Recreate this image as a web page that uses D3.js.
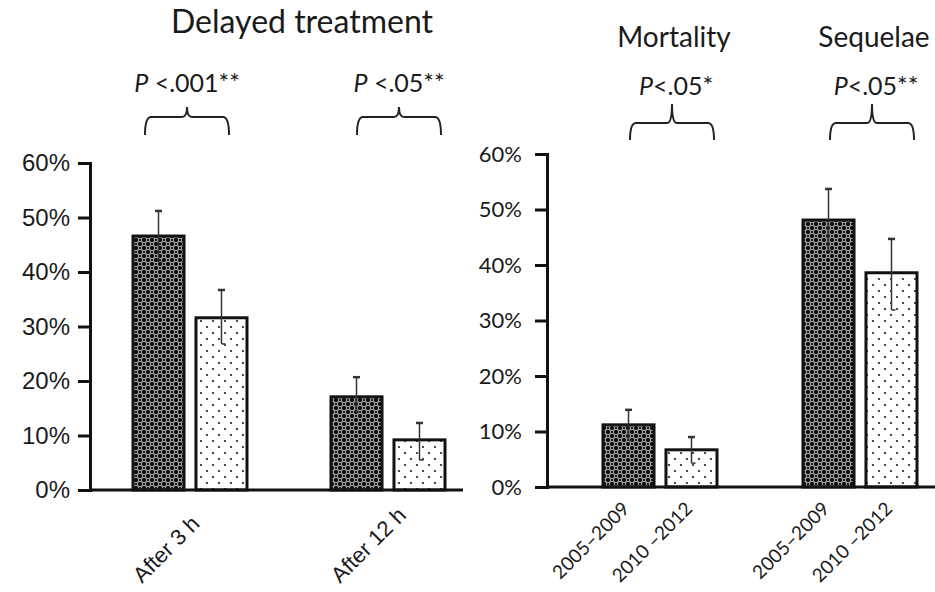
<!DOCTYPE html>
<html lang="en">
<head>
<meta charset="UTF-8">
<title>Delayed treatment, mortality and sequelae</title>
<script src="https://d3js.org/d3.v7.min.js"></script>
<style>
  body { margin: 0; background: #fff; }
  svg text { fill: #1a1a1a; }
</style>
</head>
<body>
<script>

// ---- data ----
var periods = ["2005–2009", "2010–2012"];
var periodLabels = ["2005–2009", "2010 –2012"];

var delayCats = ["After 3 h", "After 12 h"];
var delay0509 = [46.6, 17.1];
var delay1012 = [31.6, 9.2];
var delay0509Hi = [51.2, 20.7];
var delay0509Lo = [41.8, 14.3];
var delay1012Hi = [36.7, 12.3];
var delay1012Lo = [26.8, 5.5];
var delayP = ["<.001**", "<.05**"];

var outCats = ["Mortality", "Sequelae"];
var out0509 = [11.2, 48.1];
var out1012 = [6.7, 38.6];
var out0509Hi = [13.9, 53.7];
var out0509Lo = [8.4, 42.5];
var out1012Hi = [9.0, 44.7];
var out1012Lo = [4.3, 31.9];
var outP = ["<.05*", "<.05**"];

var yTicks = [0, 10, 20, 30, 40, 50, 60];

var W = 935, H = 592;

var svg = d3.select("body").append("svg")
  .attr("width", W).attr("height", H);

// fill patterns
var defs = svg.append("defs");
var dark = defs.append("pattern").attr("id", "dark")
  .attr("patternUnits", "userSpaceOnUse").attr("width", 8).attr("height", 8);
dark.append("rect").attr("width", 8).attr("height", 8).attr("fill", "#111");
[[0, 0], [8, 0], [0, 8], [8, 8], [4, 4]].forEach(function (p) {
  dark.append("circle").attr("cx", p[0]).attr("cy", p[1]).attr("r", 2.7)
    .attr("fill", "none").attr("stroke", "#a8a8a8").attr("stroke-width", 1);
});
var dots = defs.append("pattern").attr("id", "dots")
  .attr("patternUnits", "userSpaceOnUse").attr("width", 12).attr("height", 12);
dots.append("rect").attr("width", 12).attr("height", 12).attr("fill", "#fff");
[[3, 3], [9, 9]].forEach(function (p) {
  dots.append("circle").attr("cx", p[0]).attr("cy", p[1]).attr("r", 1.1).attr("fill", "#222");
});

function rows(cats, a, b, aHi, aLo, bHi, bLo) {
  var out = [];
  cats.forEach(function (c, i) {
    out.push({ cat: c, period: periods[0], v: a[i], hi: aHi[i], lo: aLo[i], fill: "url(#dark)" });
    out.push({ cat: c, period: periods[1], v: b[i], hi: bHi[i], lo: bLo[i], fill: "url(#dots)" });
  });
  return out;
}

function bracket(g, x1, x2, xc, yh, yb, yt) {
  var p = d3.path();
  p.moveTo(x1, yb);
  p.quadraticCurveTo(x1, yh, x1 + 6, yh);
  p.lineTo(xc - 5, yh);
  p.quadraticCurveTo(xc, yh, xc, yt);
  p.quadraticCurveTo(xc, yh, xc + 5, yh);
  p.lineTo(x2 - 6, yh);
  p.quadraticCurveTo(x2, yh, x2, yb);
  g.append("path").attr("d", p.toString())
    .attr("fill", "none").attr("stroke", "#222").attr("stroke-width", 2);
}

function panel(o) {
  var g = svg.append("g");
  var y = d3.scaleLinear().domain([0, 60]).range(o.yRange);
  var xg = d3.scalePoint().domain(o.cats).range(o.groupRange);
  var xi = d3.scaleBand().domain(periods).range([-57, 57]).paddingInner(0.19);
  var data = rows(o.cats, o.a, o.b, o.aHi, o.aLo, o.bHi, o.bLo);
  var cx = function (d) { return xg(d.cat) + xi(d.period) + xi.bandwidth() / 2; };

  // axis
  var ax = g.append("g").attr("transform", "translate(" + o.axisX + ",0)")
    .call(d3.axisLeft(y).tickValues(yTicks).tickSize(12).tickPadding(o.tickPad)
      .tickFormat(function (d) { return d + "%"; }));
  ax.selectAll("path,line").attr("stroke", "#111").attr("stroke-width", 3);
  ax.selectAll("text").attr("font-family", o.tickFont).attr("font-size", o.tickSize)
    .attr("fill", "#1a1a1a");

  // bars
  g.selectAll(".bar").data(data).enter().append("rect")
    .attr("x", function (d) { return xg(d.cat) + xi(d.period); })
    .attr("y", function (d) { return y(d.v); })
    .attr("width", xi.bandwidth())
    .attr("height", function (d) { return y(0) - y(d.v); })
    .attr("fill", function (d) { return d.fill; })
    .attr("stroke", "#111").attr("stroke-width", 3);

  // error bars
  var eb = g.selectAll(".err").data(data).enter().append("g").attr("stroke", "#333").attr("stroke-width", 1.5);
  eb.append("line").attr("x1", cx).attr("x2", cx)
    .attr("y1", function (d) { return y(d.lo); }).attr("y2", function (d) { return y(d.hi); });
  eb.append("line").attr("x1", function (d) { return cx(d) - 3.5; }).attr("x2", function (d) { return cx(d) + 3.5; })
    .attr("y1", function (d) { return y(d.hi); }).attr("y2", function (d) { return y(d.hi); }).attr("stroke-width", 2.5);
  eb.append("line").attr("x1", cx).attr("x2", function (d) { return cx(d) + 4; })
    .attr("y1", function (d) { return y(d.lo); }).attr("y2", function (d) { return y(d.lo); });

  // baseline
  g.append("line").attr("x1", o.axisX).attr("x2", o.baseEnd)
    .attr("y1", y(0)).attr("y2", y(0)).attr("stroke", "#111").attr("stroke-width", 3);

  return { g: g, y: y, xg: xg, xi: xi, data: data, cx: cx };
}

// ---- left panel: delayed treatment ----
var L = panel({
  cats: delayCats, a: delay0509, b: delay1012,
  aHi: delay0509Hi, aLo: delay0509Lo, bHi: delay1012Hi, bLo: delay1012Lo,
  yRange: [490, 163], groupRange: [190, 388], axisX: 90, baseEnd: 463,
  tickFont: "'Liberation Sans', Arial, sans-serif", tickSize: 24, tickPad: 8
});

L.g.selectAll(".xlab").data(delayCats).enter().append("text")
  .attr("transform", function (d) { return "translate(" + (L.xg(d) - 48) + ",584) rotate(-45)"; })
  .attr("font-family", "'Liberation Sans', Arial, sans-serif").attr("font-size", 22)
  .text(function (d) { return d; });

svg.append("text").attr("x", 302).attr("y", 33).attr("text-anchor", "middle")
  .attr("font-family", "Lato, 'Open Sans', sans-serif").attr("font-size", 32)
  .text("Delayed treatment");

var annL = d3.scalePoint().domain(delayCats).range([187, 399]);
delayCats.forEach(function (c, i) {
  var xc = annL(c);
  var t = svg.append("text").attr("x", xc).attr("y", 92).attr("text-anchor", "middle")
    .attr("font-family", "Lato, 'Open Sans', sans-serif").attr("font-size", 25);
  t.append("tspan").attr("font-style", "italic").text("P");
  t.append("tspan").text(" " + delayP[i]);
  bracket(svg, xc - 42, xc + 42, xc, 117, 135, 107);
});

// ---- right panel: mortality and sequelae ----
var R = panel({
  cats: outCats, a: out0509, b: out1012,
  aHi: out0509Hi, aLo: out0509Lo, bHi: out1012Hi, bLo: out1012Lo,
  yRange: [487, 154], groupRange: [660, 860], axisX: 547, baseEnd: 935,
  tickFont: "Lato, 'Open Sans', sans-serif", tickSize: 22, tickPad: 13
});

R.g.selectAll(".xlab").data(R.data).enter().append("text")
  .attr("transform", function (d) { return "translate(" + (R.cx(d) + 2) + ",510) rotate(-45)"; })
  .attr("text-anchor", "end")
  .attr("font-family", "Lato, 'Open Sans', sans-serif").attr("font-size", 19)
  .text(function (d) { return periodLabels[periods.indexOf(d.period)]; });

var annR = d3.scalePoint().domain(outCats).range([672, 872]);
outCats.forEach(function (c, i) {
  var xc = annR(c);
  svg.append("text").attr("x", xc + 2).attr("y", 47).attr("text-anchor", "middle")
    .attr("font-family", "Lato, 'Open Sans', sans-serif").attr("font-size", 28)
    .text(c);
  var t = svg.append("text").attr("x", xc + 4).attr("y", 95).attr("text-anchor", "middle")
    .attr("font-family", "Lato, 'Open Sans', sans-serif").attr("font-size", 25);
  t.append("tspan").attr("font-style", "italic").text("P");
  t.append("tspan").text(outP[i]);
  bracket(svg, xc - 42, xc + 42, xc, 123, 140, 104);
});

</script>
</body>
</html>
